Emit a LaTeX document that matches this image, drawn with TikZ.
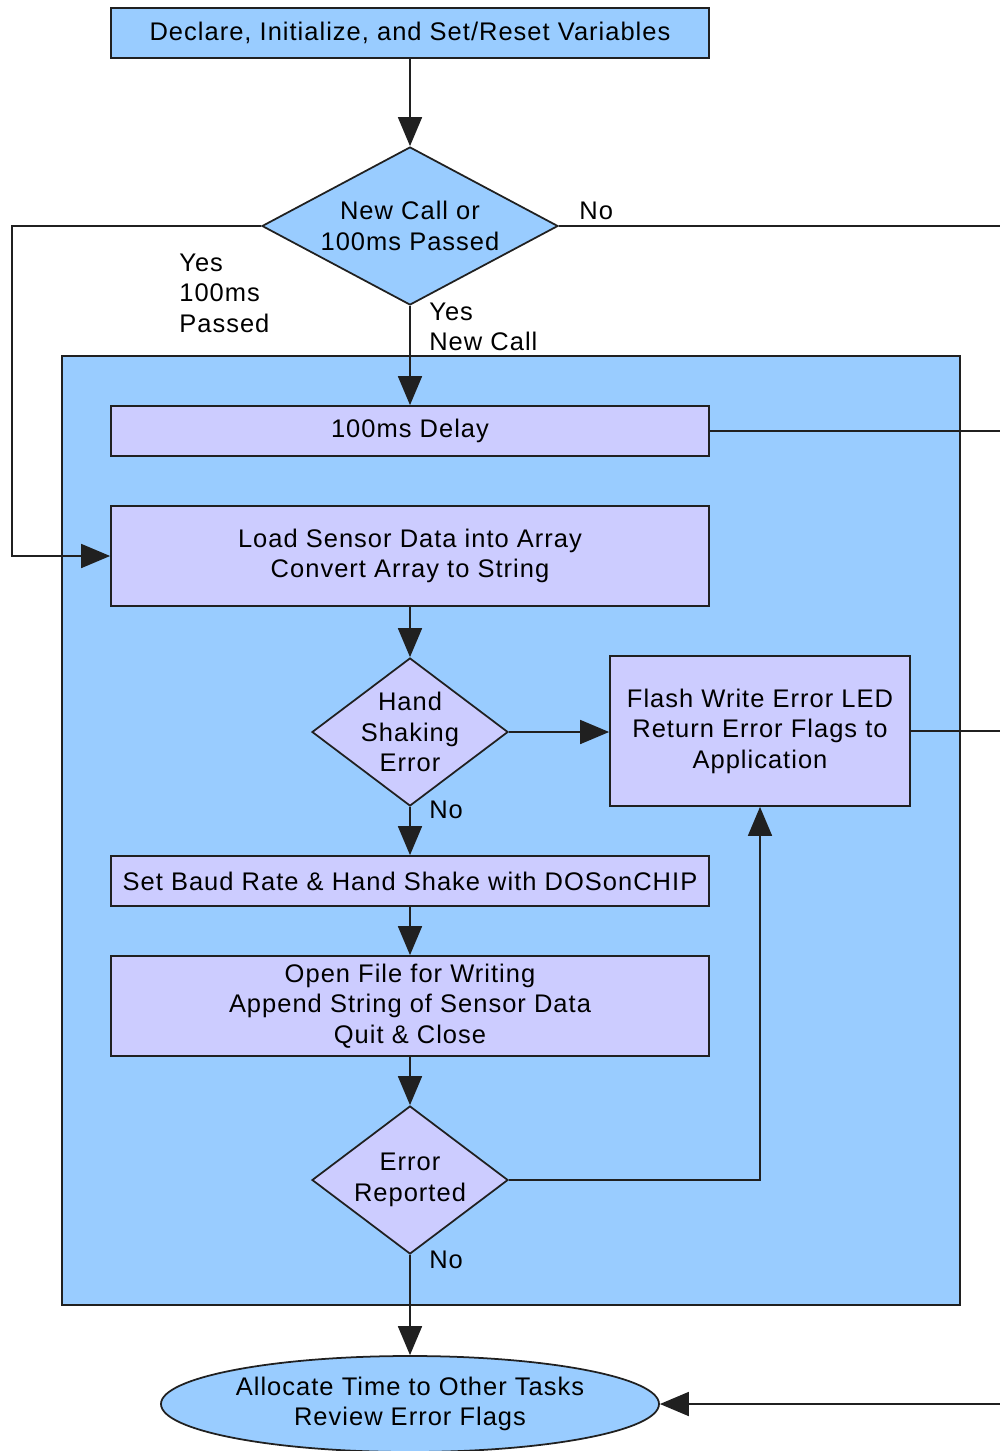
\documentclass[tikz,border=0pt]{standalone}
\usepackage{fontspec}
\setmainfont{Liberation Sans}[LetterSpace=4]
\usetikzlibrary{shapes.geometric, arrows.meta, positioning}

\definecolor{skyfill}{HTML}{99CCFF}
\definecolor{lilacfill}{HTML}{CCCCFF}
\definecolor{edgegray}{HTML}{202020}

\begin{document}
\begin{tikzpicture}[x=0.2mm, y=-0.2mm,
    font=\fontsize{14.5}{17.4}\selectfont,
    >={Triangle[length=5.8mm, width=4.8mm]},
    box/.style={rectangle, draw=edgegray, line width=1pt, align=center, minimum width=119.6mm, minimum height=10mm, inner sep=0pt},
    startbox/.style={box, fill=skyfill},
    stepbox/.style={box, fill=lilacfill},
    decision/.style={diamond, draw=edgegray, line width=1pt, fill=lilacfill, inner sep=0pt, minimum width=39.2mm, minimum height=29.6mm},
    panel/.style={rectangle, draw=edgegray, line width=1pt, fill=skyfill, minimum width=179.6mm, minimum height=189.8mm},
    flow/.style={draw=edgegray, line width=1pt},
    tag/.style={anchor=west, align=left, inner sep=0pt}
]
\useasboundingbox (0,0) rectangle (1000,1451);
\coordinate (rEdge) at (1000,0);

% Loop body background
\node[panel] (loopBody) at (511,830.5) {};

% Top: setup and first decision
\node[startbox] (declare) at (410,33) {Declare, Initialize, and Set/Reset Variables};
\node[decision, fill=skyfill, minimum width=59.2mm, minimum height=31.6mm,
      label={[align=center]center:New Call or\\100ms Passed}] (newCall) at (410,226) {};

% Inside the loop body
\node[stepbox] (delay) at (410,431) {100ms Delay};
\node[stepbox, minimum height=20mm] (loadData) at (410,556) {Load Sensor Data into Array\\Convert Array to String};
\node[decision, label={[align=center]center:Hand\\Shaking\\Error}] (handErr) at (410,732) {};
\node[stepbox, minimum width=60mm, minimum height=30mm] (flashLed) at (760,731) {Flash Write Error LED\\Return Error Flags to\\Application};
\node[stepbox] (baudRate) at (410,881) {Set Baud Rate \& Hand Shake with DOSonCHIP};
\node[stepbox, minimum height=20mm] (openFile) at (410,1006) {Open File for Writing\\Append String of Sensor Data\\Quit \& Close};
\node[decision, label={[align=center]center:Error\\Reported}] (errRep) at (410,1180) {};

% Bottom terminal
\node[ellipse, draw=edgegray, line width=1pt, fill=skyfill, inner sep=0pt, minimum width=99.6mm, minimum height=19.2mm, align=center] (allocate) at (410,1404) {Allocate Time to Other Tasks\\Review Error Flags};

% Labels on branches
\node[tag] (noTop) at (579,211) {No};
\node[tag] (yesPassed) at (179,293) {Yes\\100ms\\Passed};
\node[tag] (yesNew) at (429,327) {Yes\\New Call};
\node[tag] (noHand) at (429,810) {No};
\node[tag] (noErr) at (429,1260) {No};

% Connectors
\draw[flow, ->] (declare.south) -- (newCall.north);
\draw[flow, ->] (newCall.south) -- (delay.north);
\draw[flow] (newCall.east) -- (newCall.east -| rEdge);
\coordinate (leftTurn) at (12,226);
\draw[flow, ->] (newCall.west) -- (leftTurn) |- (loadData.west);
\draw[flow] (delay.east) -- (delay.east -| rEdge);
\draw[flow, ->] (loadData.south) -- (handErr.north);
\draw[flow, ->] (handErr.east) -- (flashLed.west |- handErr.east);
\draw[flow] (flashLed.east) -- (flashLed.east -| rEdge);
\draw[flow, ->] (handErr.south) -- (baudRate.north);
\draw[flow, ->] (baudRate.south) -- (openFile.north);
\draw[flow, ->] (openFile.south) -- (errRep.north);
\draw[flow, ->] (errRep.east) -| (flashLed.south);
\draw[flow, ->] (errRep.south) -- (allocate.north);
\draw[flow, <-] (allocate.east) -- (allocate.east -| rEdge);
\end{tikzpicture}
\end{document}
